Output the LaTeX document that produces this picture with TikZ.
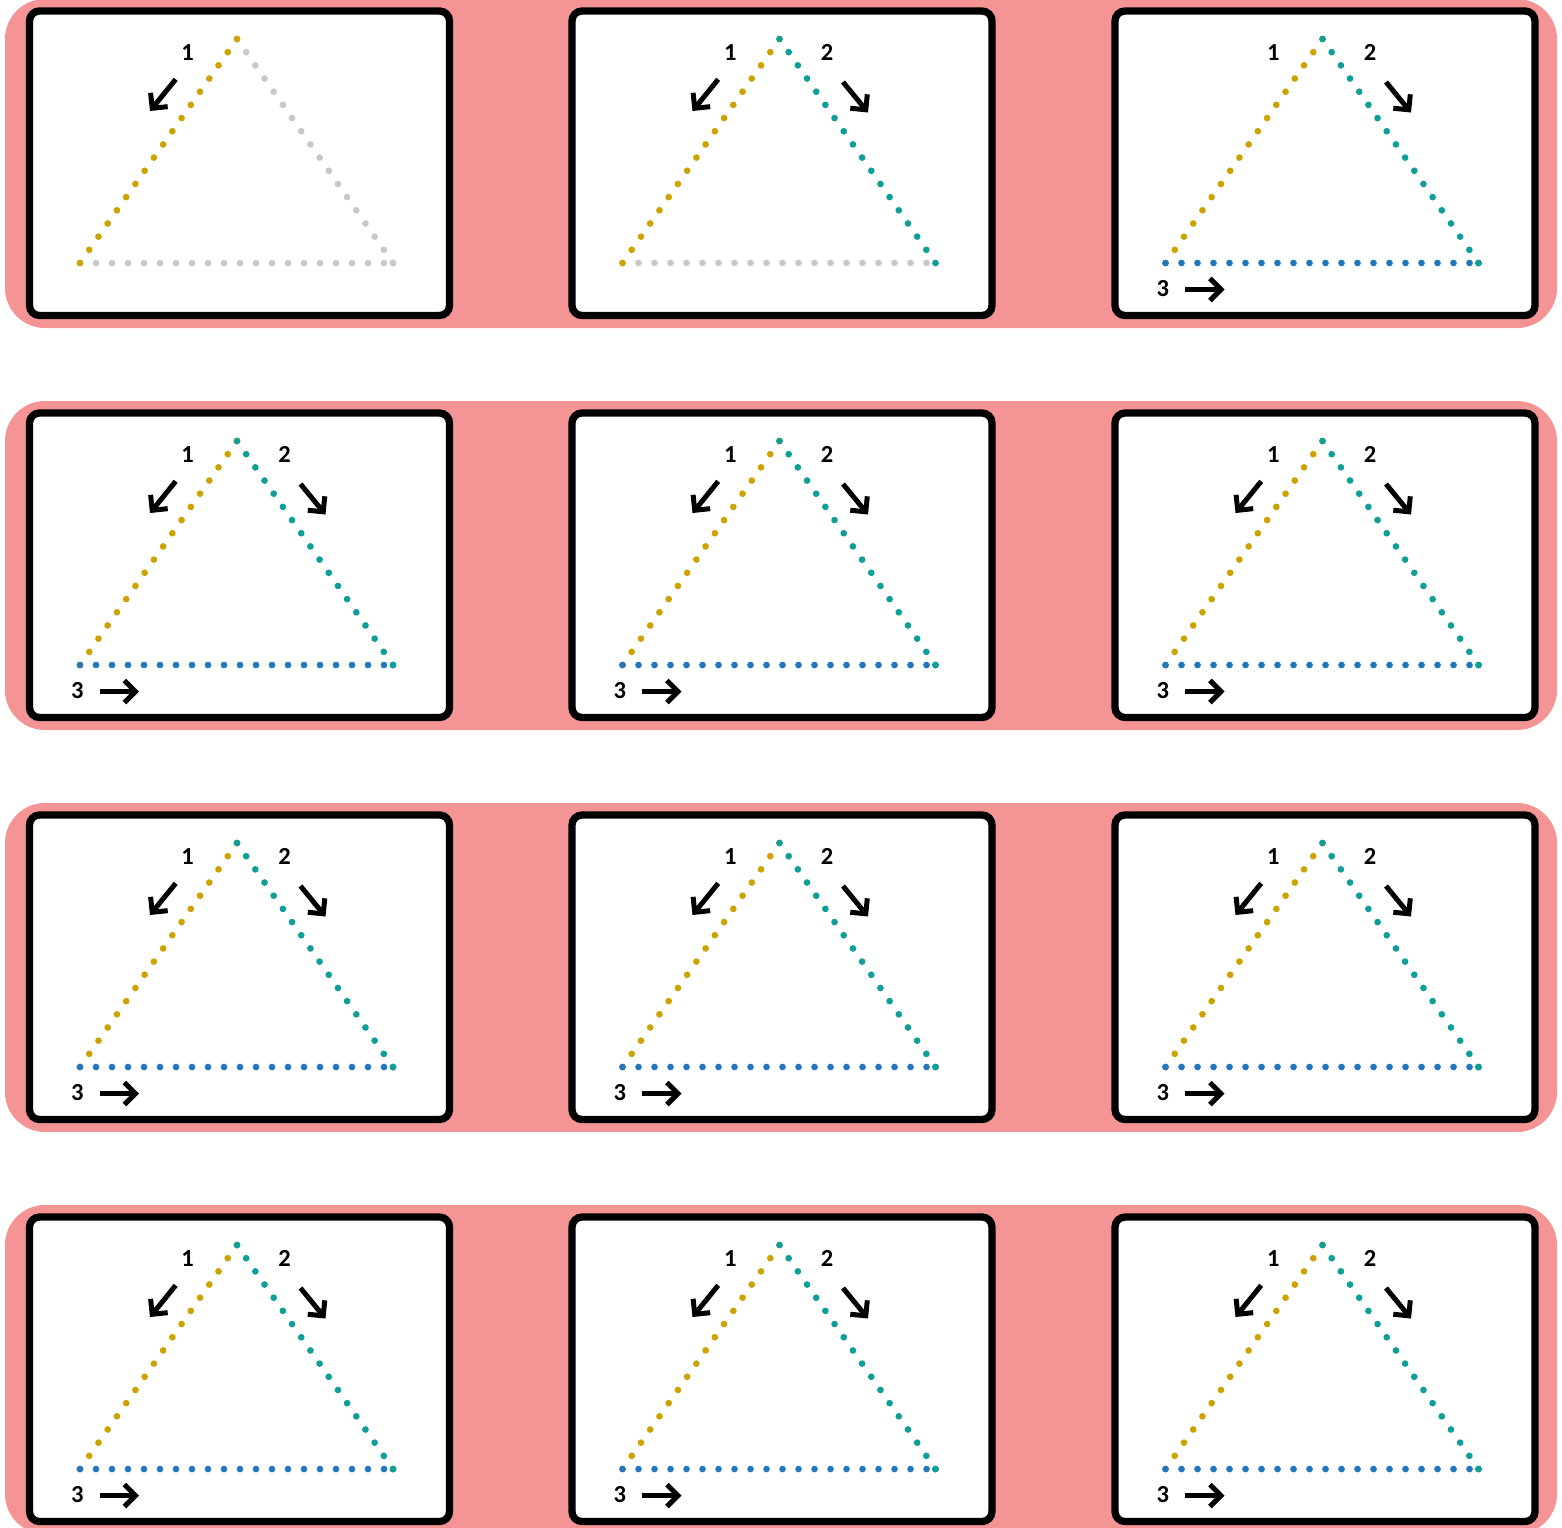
\documentclass[tikz,border=0pt]{standalone}
\usepackage{fontspec}
\setmainfont{Carlito}
\usetikzlibrary{calc,arrows.meta}
\definecolor{bandpink}{HTML}{F59494}
\definecolor{dotgold}{HTML}{CCA300}
\definecolor{dotteal}{HTML}{109E98}
\definecolor{dotblue}{HTML}{2277BE}
\definecolor{dotgray}{HTML}{C8C8C8}
\tikzset{
  band/.style={fill=bandpink, rounded corners=40pt},
  card/.style={draw=black, fill=white, line width=7.3pt, rounded corners=10pt},
  num/.style={font=\fontsize{24.5}{28}\selectfont\bfseries, inner sep=0pt},
  dirarrow/.style={line width=5pt, -{Straight Barb[length=11pt,width=22pt]}},
}
% dots along a slanted side: colour, from, to
\newcommand\legdots[3]{\foreach \k in {0,...,17}{\fill[#1] ($(#2)!\k/17!(#3)$) circle (3.35pt);}}
% dots along the base: colour
\newcommand\basedots[1]{\foreach \k in {0,...,19}{\fill[#1] ($(BL)+(16*\k,0)$) circle (3.35pt);}\fill[#1] (BR) circle (3.35pt);}
% card frame and triangle corners
\newcommand\cardframe[1]{%
  \draw[card] (29.5,11) rectangle (449.5,315.5);
  \coordinate (A) at (237,39);
  \coordinate (BL) at (80,263);
  \coordinate (BR) at (393,263);
  \coordinate (s1#1) at (175.7,79.3); \coordinate (e1#1) at (150,111);
  \coordinate (s2#1) at (300.5,82);   \coordinate (e2#1) at (325.5,112.5);
  \coordinate (s3#1) at (99.5,289.5); \coordinate (e3#1) at (139,289.5);
}
\newcommand\labelone[1]{\node[num] (n1#1) at (187.7,52.5) {1}; \draw[dirarrow] (s1#1) -- (e1#1);}
\newcommand\labeltwo[1]{\node[num] (n2#1) at (284.5,52.5) {2}; \draw[dirarrow] (s2#1) -- (e2#1);}
\newcommand\labelthree[1]{\node[num] (n3#1) at (77.3,288.5) {3}; \draw[dirarrow] (s3#1) -- (e3#1);}

\begin{document}
\begin{tikzpicture}[x=1pt,y=-1pt]
\useasboundingbox (0,0) rectangle (1562,1527);
\clip (0,0) rectangle (1562,1527);
% pink bands
\foreach \r in {0,1,2,3}{
  \fill[band] (5,{-1+402*\r}) rectangle (1557,{328+402*\r});
}
% row 1, card 1
\begin{scope}[shift={(0,0)}]
  \cardframe{a}
  \legdots{dotgray}{A}{BR}
  \basedots{dotgray}
  \legdots{dotgold}{A}{BL}
  \labelone{a}
\end{scope}
% row 1, card 2
\begin{scope}[shift={(542.5,0)}]
  \cardframe{b}
  \basedots{dotgray}
  \legdots{dotgold}{A}{BL}
  \legdots{dotteal}{A}{BR}
  \labelone{b}
  \labeltwo{b}
\end{scope}
% row 1, card 3
\begin{scope}[shift={(1085.5,0)}]
  \cardframe{c}
  \legdots{dotgold}{A}{BL}
  \basedots{dotblue}
  \legdots{dotteal}{A}{BR}
  \node[num] (n1c) at (187.7,52.5) {1};
  \labeltwo{c}
  \labelthree{c}
\end{scope}
% rows 2 to 4
\foreach \r in {1,2,3}{
  \foreach \c/\cx in {0/0,1/542.5,2/1085.5}{
    \begin{scope}[shift={(\cx,{402*\r})}]
      \cardframe{\r\c}
      \legdots{dotgold}{A}{BL}
      \basedots{dotblue}
      \legdots{dotteal}{A}{BR}
      \labelone{\r\c}
      \labeltwo{\r\c}
      \labelthree{\r\c}
    \end{scope}
  }
}
\end{tikzpicture}
\end{document}
